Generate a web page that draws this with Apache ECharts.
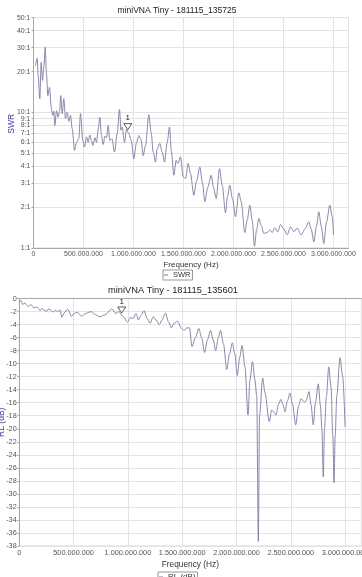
<!DOCTYPE html>
<html><head><meta charset="utf-8">
<script src="https://cdn.jsdelivr.net/npm/echarts@6/dist/echarts.min.js"></script>
<style>html,body{margin:0;padding:0;background:#fff}#c{width:362px;height:577px}</style>
</head><body><div id="c"></div>
<script>
const swrTitle = 'miniVNA Tiny - 181115_135725';
const rlTitle = 'miniVNA Tiny - 181115_135601';
const swrName = 'SWR';
const rlName = 'RL (dB)';
const xName = 'Frequency (Hz)';

const swrFreqMHz = [
  20,37,47,63,77,90,103,117,130,143,
  160,177,193,203,213,230,247,260,273,287,
  303,320,337,353,370,387,410,430,453,470,
  493,510,530,547,563,580,593,615,630,647,
  663,680,697,715,730,747,763,785,810,837,
  860,875,887,910,930,953,977,1003,1030,1053,
  1075,1097,1120,1153,1177,1197,1220,1237,1263,1287,
  1310,1337,1360,1380,1403,1427,1445,1470,1497,1520,
  1547,1570,1603,1630,1663,1690,1713,1743,1777,1800,
  1827,1860,1887,1920,1940,1963,1990,2020,2053,2077,
  2113,2137,2163,2187,2210,2230,2253,2280,2303,2337,
  2363,2387,2413,2443,2470,2503,2537,2570,2603,2637,
  2677,2720,2753,2777,2803,2830,2853,2877,2903,2930,
  2963,2987,3000
];
const swrValues = [
  22,25,18.7,12.6,23.4,17.2,21.5,30.2,19.2,13.3,
  15.3,10.9,9.5,10.2,8.0,10.3,9.2,10.2,13.3,9.8,
  12.6,9.0,10.0,8.6,9.5,7.6,5.25,6.0,6.4,9.8,
  6.2,5.55,6.6,6.0,6.8,6.2,5.7,6.5,6.0,7.5,
  9.2,6.8,5.8,6.7,6.5,8.0,6.2,6.4,5.1,7.0,
  10.5,7.4,7.8,6.0,7.5,7.0,6.2,4.56,6.0,6.75,
  6.3,4.8,5.7,9.6,7.1,5.1,4.3,5.4,5.9,5.1,
  4.3,6.0,7.8,5.1,3.44,4.43,4.2,4.7,3.35,3.25,
  4.2,3.54,2.45,3.1,3.96,3.0,2.2,2.8,3.44,2.8,
  2.32,3.85,2.9,1.82,2.4,2.9,2.3,1.70,2.55,2.2,
  1.30,1.6,2.07,1.6,1.03,1.35,1.65,1.45,1.28,1.30,
  1.36,1.3,1.41,1.32,1.49,1.38,1.25,1.43,1.32,1.40,
  1.25,1.40,1.56,1.38,1.11,1.45,1.85,1.45,1.08,1.55,
  2.07,1.7,1.25
];

const rlFreqMHz = [
  0,16,31,52,68,83,108,135,160,175,
  191,209,227,252,269,283,313,333,352,375,
  392,414,444,482,505,530,575,600,627,660,
  690,743,789,851,890,918,958,996,1026,1047,
  1075,1096,1121,1148,1176,1203,1234,1259,1289,1314,
  1346,1374,1400,1425,1457,1494,1517,1544,1567,1590,
  1622,1653,1678,1706,1733,1761,1784,1809,1832,1853,
  1880,1910,1935,1962,1984,2007,2030,2051,2078,2106,
  2124,2147,2170,2186,2201,2212,2241,2262,2302,2324,
  2341,2363,2387,2409,2428,2446,2469,2492,2515,2545,
  2571,2594,2626,2640,2668,2686,2707,2727,2753,2773,
  2786,2799,2810,2828,2849,2870,2887,2898,2909,2923,
  2953,2978,3000
];
const rlValues = [
  -0.5,-0.3,-0.9,-0.7,-1.0,-1.2,-0.95,-1.46,-1.3,-1.5,
  -1.87,-1.5,-1.8,-1.95,-1.6,-1.7,-2.07,-1.8,-2.0,-1.75,
  -2.9,-2.2,-1.65,-2.73,-2.3,-2.1,-2.7,-2.4,-2.2,-2.0,
  -2.4,-2.8,-2.5,-1.6,-2.3,-2.0,-2.8,-3.6,-2.9,-3.1,
  -2.3,-3.3,-2.6,-1.87,-3.0,-3.8,-2.8,-3.3,-4.0,-3.3,
  -2.25,-3.6,-4.5,-3.8,-3.5,-4.6,-4.9,-4.5,-4.5,-7.4,
  -6.0,-4.6,-6.0,-8.3,-6.3,-4.9,-6.3,-8.0,-6.0,-4.9,
  -7.0,-10.9,-8.5,-6.8,-8.5,-11.8,-9.0,-7.2,-10.5,-17.9,
  -12.5,-9.7,-12.5,-15,-37.3,-18,-12.2,-14.5,-18.9,-17.1,
  -17.4,-17.9,-16.2,-15.5,-16.3,-17.4,-15.7,-14.5,-16.2,-19.4,
  -16.5,-15.4,-15.9,-15.7,-14.3,-16.3,-19.4,-16.0,-13.1,-16.5,
  -20,-27.4,-20,-15,-10.5,-13.5,-21,-28.3,-21,-15.0,
  -9.1,-12.0,-19.7
];

const swrTicks = [1,2,3,4,5,6,7,8,9,10,20,30,40,50];
const markerLabel = '1';
const markerFreqMHz = 943;
const swrMarkerValue = 7.4;
const rlMarkerValue = -2.3;

const FONT = '"Liberation Sans", Arial, sans-serif';
const LINE = '#7a7aa2';
const GRIDC = '#e3e3e3';
const AXISC = '#a8a8a8';
const LABELC = '#555';

function dots(v){ return Math.round(v).toString().replace(/\B(?=(\d{3})+(?!\d))/g, '.'); }

const markerSymbol = 'path://M0,0L8,0L4,6Z';
function marker(value){
  return {
    symbol: markerSymbol, symbolSize: [8,6], symbolOffset: [0,-3.5],
    itemStyle: {color:'#fff', borderColor:'#333', borderWidth:0.8},
    label: {show:true, position:'top', distance:1, formatter: markerLabel, color:'#222', fontSize:8, fontFamily:FONT},
    data: [{coord:[markerFreqMHz*1e6, value]}]
  };
}

function xAxisOpt(idx, fs, gap){
  return {
    gridIndex: idx, type:'value', min:0, max:3.15e9, interval:5e8,
    name: xName, nameLocation:'middle', nameGap: gap, nameMoveOverlap:false,
    nameTextStyle:{fontSize:fs+1, color:'#333', fontFamily:FONT},
    axisLine:{show:true, lineStyle:{color:AXISC}},
    axisTick:{show:false},
    axisLabel:{fontSize:fs, color:LABELC, margin:3, formatter:dots, interval:0, showMaxLabel:false, hideOverlap:false, fontFamily:FONT},
    splitLine:{show:true, lineStyle:{color:GRIDC, width:1}}
  };
}

const chart = echarts.init(document.getElementById('c'));
chart.setOption({
  animation:false,
  backgroundColor:'#fff',
  textStyle:{fontFamily:FONT},
  title:[
    {text:swrTitle, left:177, top:6, padding:0, textAlign:'center', textStyle:{fontSize:8.5, fontWeight:'normal', color:'#222', fontFamily:FONT}},
    {text:rlTitle, left:173, top:286, padding:0, textAlign:'center', textStyle:{fontSize:9.3, fontWeight:'normal', color:'#222', fontFamily:FONT}}
  ],
  legend:[
    {data:[swrName], left:163, top:270, icon:'rect', itemWidth:4, itemHeight:1, padding:[1,2,1,1],
     borderColor:'#999', borderWidth:1, borderRadius:0, textStyle:{fontSize:7.5, color:'#333', fontFamily:FONT}},
    {data:[rlName], left:158, top:572, icon:'rect', itemWidth:4, itemHeight:1, padding:[1,2,1,1],
     borderColor:'#999', borderWidth:1, borderRadius:0, textStyle:{fontSize:8, color:'#333', fontFamily:FONT}}
  ],
  grid:[
    {left:33.5, top:17.6, width:315, height:230.4, show:true, borderColor:'#d4d4d4', borderWidth:1, containLabel:false, outerBoundsMode:'none'},
    {left:19.3, top:298.5, width:342.1, height:247.5, show:true, borderColor:'#d4d4d4', borderWidth:1, containLabel:false, outerBoundsMode:'none'}
  ],
  xAxis:[ xAxisOpt(0, 7, 13), xAxisOpt(1, 7.3, 14.5) ],
  yAxis:[
    {gridIndex:0, type:'log', logBase:10, min:1, max:50,
     name:swrName, nameLocation:'middle', nameGap:17, nameMoveOverlap:false,
     nameTextStyle:{fontSize:8.5, color:'#3d3d9e', fontFamily:FONT, padding:[0,0,0,18]},
     axisLine:{show:true, lineStyle:{color:AXISC}},
     axisTick:{show:true, length:2, customValues:swrTicks, lineStyle:{color:AXISC}},
     axisLabel:{customValues:swrTicks, formatter:function(v){return Math.round(v)+':1';}, fontSize:7, color:LABELC, margin:3, hideOverlap:false, fontFamily:FONT},
     splitLine:{show:true, lineStyle:{color:GRIDC, width:1}},
     minorTick:{show:false}, minorSplitLine:{show:false}
    },
    {gridIndex:1, type:'value', min:-38, max:0, interval:2,
     name:rlName, nameLocation:'middle', nameGap:13.5, nameMoveOverlap:false,
     nameTextStyle:{fontSize:8.5, color:'#3d3d9e', fontFamily:FONT},
     axisLine:{show:true, lineStyle:{color:AXISC}},
     axisTick:{show:true, length:2, lineStyle:{color:AXISC}},
     axisLabel:{fontSize:7.3, color:LABELC, margin:2.6, interval:0, fontFamily:FONT},
     splitLine:{show:true, lineStyle:{color:GRIDC, width:1}}
    }
  ],
  series:[
    {type:'line', name:swrName, xAxisIndex:0, yAxisIndex:0,
     data: swrFreqMHz.map(function(f,i){return [f*1e6, swrValues[i]];}),
     showSymbol:false, smooth:0.3, smoothMonotone:'x',
     lineStyle:{color:LINE, width:0.9}, itemStyle:{color:LINE},
     markPoint: marker(swrMarkerValue)},
    {type:'line', name:rlName, xAxisIndex:1, yAxisIndex:1,
     data: rlFreqMHz.map(function(f,i){return [f*1e6, rlValues[i]];}),
     showSymbol:false, smooth:0.3, smoothMonotone:'x',
     lineStyle:{color:LINE, width:0.9}, itemStyle:{color:LINE},
     markPoint: marker(rlMarkerValue)}
  ]
});
</script>
</body></html>
